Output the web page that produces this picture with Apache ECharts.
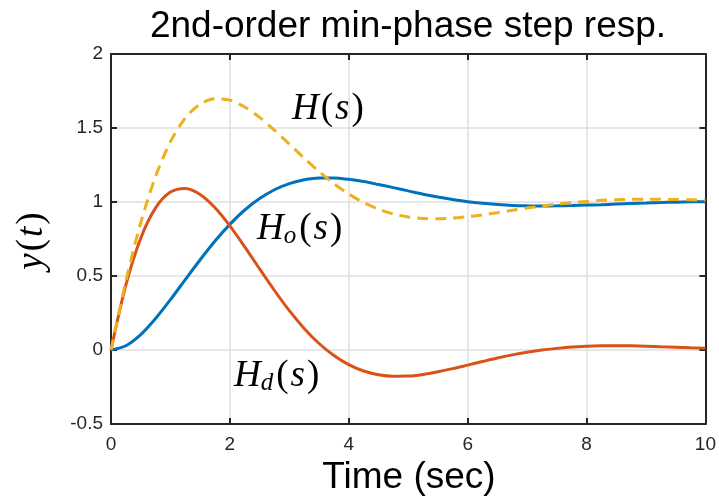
<!DOCTYPE html>
<html><head><meta charset="utf-8">
<script src="https://cdn.jsdelivr.net/npm/echarts@6/dist/echarts.min.js"></script>
<style>html,body{margin:0;padding:0;background:#fff}#c{width:719px;height:497px}</style>
</head><body><div id="c"></div>
<script>
const time = [0,0.25,0.5,0.75,1,1.25,1.5,1.75,2,2.25,2.5,2.75,3,3.25,3.5,3.75,4,4.25,4.5,4.75,5,5.25,5.5,5.75,6,6.25,6.5,6.75,7,7.25,7.5,7.75,8,8.25,8.5,8.75,9,9.25,9.5,9.75,10];
const ho = [0,0.029,0.104,0.213,0.340,0.476,0.610,0.737,0.849,0.946,1.023,1.083,1.124,1.150,1.162,1.162,1.153,1.138,1.118,1.097,1.075,1.053,1.034,1.017,1.002,0.991,0.983,0.977,0.974,0.973,0.974,0.976,0.979,0.982,0.986,0.990,0.993,0.996,0.999,1.001,1.002];
const hd = [0,0.438,0.755,0.960,1.067,1.092,1.051,0.961,0.839,0.697,0.548,0.402,0.266,0.146,0.044,-0.037,-0.099,-0.142,-0.167,-0.177,-0.176,-0.165,-0.147,-0.126,-0.102,-0.078,-0.054,-0.033,-0.015,0.000,0.011,0.020,0.025,0.028,0.029,0.028,0.026,0.022,0.019,0.015,0.011];
const h = [0,0.466,0.859,1.173,1.407,1.568,1.661,1.698,1.688,1.642,1.572,1.485,1.391,1.296,1.206,1.124,1.054,0.996,0.952,0.919,0.899,0.888,0.886,0.891,0.901,0.913,0.928,0.944,0.959,0.973,0.986,0.996,1.004,1.011,1.015,1.018,1.019,1.018,1.017,1.015,1.013];
const xTicks = [0,2,4,6,8,10];
const yTicks = [-0.5,0,0.5,1,1.5,2];

const pairs = arr => time.map((t,i)=>[t,arr[i]]);
const chart = echarts.init(document.getElementById('c'), null, {renderer:'canvas'});
const axCol = '#262626';
const sans = '"Liberation Sans", Arial, sans-serif';
const serif = '"Liberation Serif", "Times New Roman", serif';
const baseX = {min:0,max:10,interval:2,
  axisLine:{show:true,onZero:false,lineStyle:{color:axCol,width:2}},
  axisTick:{show:true,inside:true,length:6,lineStyle:{color:axCol,width:2}},
  splitLine:{show:true,lineStyle:{color:'#dfdfdf',width:1.5}}};
const baseY = {min:-0.5,max:2,interval:0.5,
  axisLine:{show:true,onZero:false,lineStyle:{color:axCol,width:2}},
  axisTick:{show:true,inside:true,length:6,lineStyle:{color:axCol,width:2}},
  splitLine:{show:true,lineStyle:{color:'#dfdfdf',width:1.5}}};
const rich = {
  i:{fontFamily:serif,fontStyle:'italic',fontSize:37,color:'#000'},
  n:{fontFamily:serif,fontSize:37,color:'#000',padding:[0,2,0,2]},
  sub:{fontFamily:serif,fontStyle:'italic',fontSize:25,color:'#000',padding:[14,1,0,0]}
};
chart.setOption({
  backgroundColor:'#fff',
  animation:false,
  grid:{left:111,right:11,top:54,bottom:73,containLabel:false},
  xAxis:[
    Object.assign({type:'value',position:'bottom',
      axisLabel:{show:true,margin:11,fontSize:19,fontFamily:sans,color:axCol,
        formatter:v=>xTicks.includes(v)?String(v):''}},baseX),
    Object.assign({type:'value',position:'top',axisLabel:{show:false}},baseX,{splitLine:{show:false}})
  ],
  yAxis:[
    Object.assign({type:'value',position:'left',
      axisLabel:{show:true,margin:8,fontSize:19,fontFamily:sans,color:axCol,
        formatter:v=>yTicks.includes(v)?String(v):''}},baseY),
    Object.assign({type:'value',position:'right',axisLabel:{show:false}},baseY,{splitLine:{show:false}})
  ],
  series:[
    {type:'line',data:pairs(ho),smooth:0.3,showSymbol:false,lineStyle:{color:'#0072BD',width:3},z:3},
    {type:'line',data:pairs(hd),smooth:0.3,showSymbol:false,lineStyle:{color:'#D95319',width:3},z:4},
    {type:'line',data:pairs(h),smooth:0.3,showSymbol:false,lineStyle:{color:'#EDB120',width:3,type:[11,7]},z:5}
  ],
  graphic:[
    {type:'text',x:408,y:8,style:{text:'2nd-order min-phase step resp.',font:'37px '+sans,fill:'#000',align:'center',verticalAlign:'top'}},
    {type:'text',x:409,y:459,style:{text:'Time (sec)',font:'37px '+sans,fill:'#000',align:'center',verticalAlign:'top'}},
    {type:'text',x:32,y:240,rotation:Math.PI/2,style:{text:'{i|y}{n|(}{i|t}{n|)}',rich:rich,align:'center',verticalAlign:'middle'}},
    {type:'text',x:292,y:91,style:{text:'{i|H}{n|(}{i|s}{n|)}',rich:rich}},
    {type:'text',x:257,y:210,style:{text:'{i|H}{sub|o}{n|(}{i|s}{n|)}',rich:rich}},
    {type:'text',x:234,y:357,style:{text:'{i|H}{sub|d}{n|(}{i|s}{n|)}',rich:rich}}
  ]
});
</script></body></html>
